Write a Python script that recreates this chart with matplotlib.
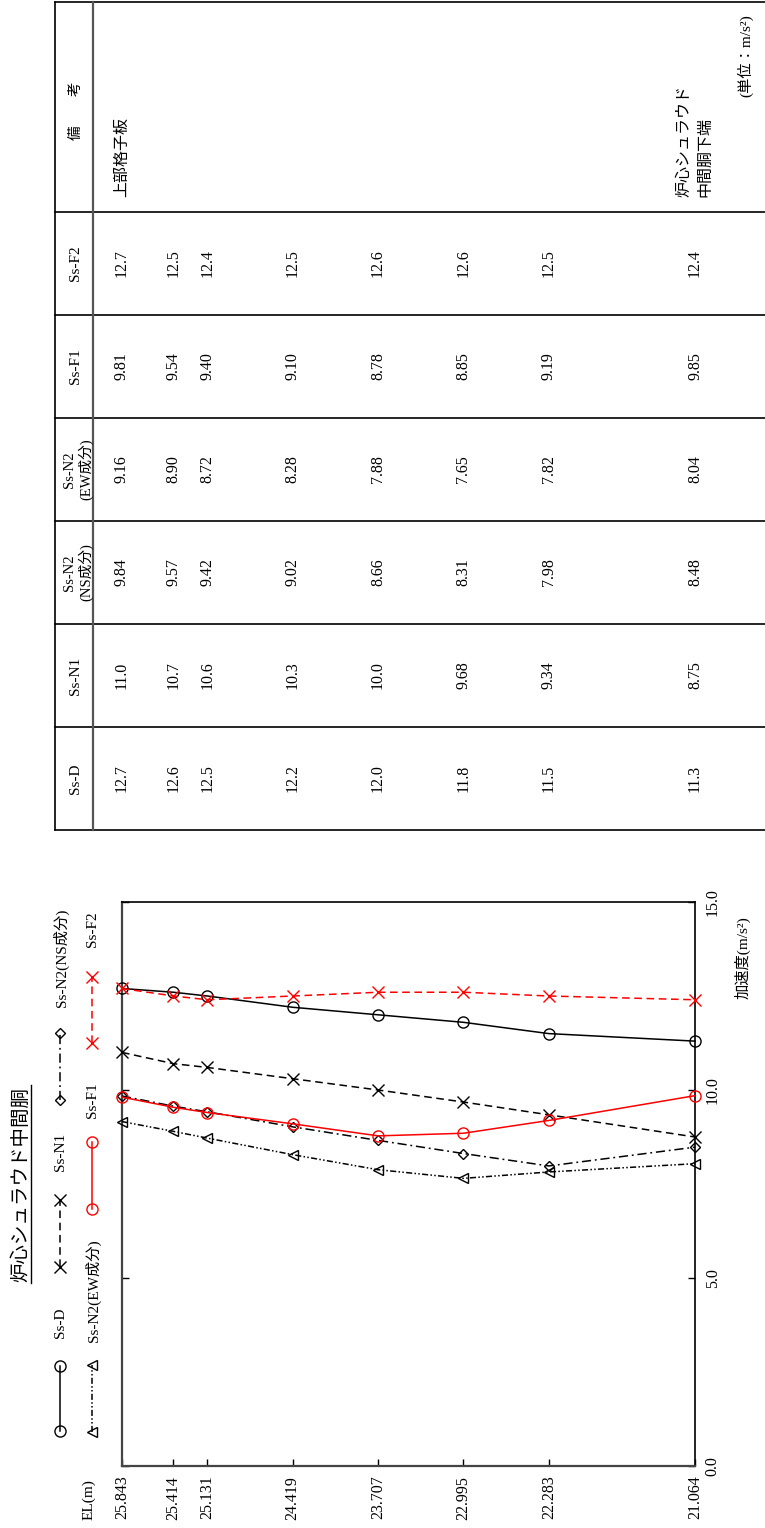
import matplotlib
matplotlib.use('Agg')
import matplotlib.pyplot as plt
from matplotlib.transforms import blended_transform_factory

plt.rcParams['font.family'] = ['Liberation Serif', 'Noto Sans CJK JP']

# ---------------- data ----------------
EL = [25.843, 25.414, 25.131, 24.419, 23.707, 22.995, 22.283, 21.064]
el_labels = ['25.843', '25.414', '25.131', '24.419', '23.707', '22.995', '22.283', '21.064']

ss_d = [12.7, 12.6, 12.5, 12.2, 12.0, 11.8, 11.5, 11.3]
ss_n1 = [11.0, 10.7, 10.6, 10.3, 10.0, 9.68, 9.34, 8.75]
ss_n2_ns = [9.84, 9.57, 9.42, 9.02, 8.66, 8.31, 7.98, 8.48]
ss_n2_ew = [9.16, 8.90, 8.72, 8.28, 7.88, 7.65, 7.82, 8.04]
ss_f1 = [9.81, 9.54, 9.40, 9.10, 8.78, 8.85, 9.19, 9.85]
ss_f2 = [12.7, 12.5, 12.4, 12.5, 12.6, 12.6, 12.5, 12.4]

series_names = ['Ss-D', 'Ss-N1', 'Ss-N2(NS成分)', 'Ss-N2(EW成分)', 'Ss-F1', 'Ss-F2']
table_headers = ['Ss-D', 'Ss-N1', 'Ss-N2\n(NS成分)', 'Ss-N2\n(EW成分)', 'Ss-F1', 'Ss-F2']
remarks_header = '備　　考'
remarks = {0: '上部格子板', 7: '炉心シュラウド\n中間胴下端'}
title = '炉心シュラウド中間胴'
unit_label = '(単位：m/s²)'
accel_label = '加速度(m/s²)'
el_axis_label = 'EL(m)'
accel_ticks = [0.0, 5.0, 10.0, 15.0]
accel_tick_labels = ['0.0', '5.0', '10.0', '15.0']

series_values = [ss_d, ss_n1, ss_n2_ns, ss_n2_ew, ss_f1, ss_f2]

# ---------------- styles ----------------
styles = [
    dict(color='black', ls='-', marker='o', ms=8),
    dict(color='black', ls=(0, (5, 3)), marker='x', ms=8),
    dict(color='black', ls=(0, (6, 2.5, 1.2, 2.5)), marker='D', ms=5.5),
    dict(color='black', ls=(0, (4, 1.5, 1, 1.5, 1, 1.5)), marker='<', ms=7),
    dict(color='red', ls='-', marker='o', ms=8),
    dict(color='red', ls=(0, (5, 3)), marker='x', ms=8),
]

W, H = 765, 1528
fig = plt.figure(figsize=(W / 100, H / 100), dpi=100)

# page axes in pixel coordinates for table / legend / labels
page = fig.add_axes([0, 0, 1, 1])
page.set_xlim(0, W)
page.set_ylim(H, 0)
page.axis('off')

# chart axes (rotated page: EL horizontal, acceleration vertical)
x0, x1, ytop, ybot = 122, 695, 902, 1466
ax = fig.add_axes([x0 / W, 1 - ybot / H, (x1 - x0) / W, (ybot - ytop) / H])
ax.set_xlim(EL[0], EL[-1])
ax.set_ylim(0, 15)
ax.set_facecolor('none')

for vals, st in zip(series_values, styles):
    ax.plot(EL, vals, color=st['color'], ls=st['ls'], lw=1.1,
            marker=st['marker'], ms=st['ms'], mfc='none', mec=st['color'],
            mew=1.0, clip_on=False, zorder=3)

ax.set_xticks(EL, labels=el_labels)
ax.tick_params(axis='x', direction='in', length=5, width=1.0, pad=7,
               labelrotation=90, labelsize=11.5, bottom=True, top=False)
ax.set_yticks(accel_ticks, labels=accel_tick_labels)
ax.tick_params(axis='y', direction='in', length=5, width=1.0, pad=7,
               left=True, right=True, labelleft=False, labelright=True,
               labelsize=11.5)
for t in ax.yaxis.get_major_ticks():
    t.label2.set_rotation(90)
    t.label2.set_va('center')
    t.label2.set_ha('left')

for side in ['bottom', 'left']:
    ax.spines[side].set_color('#444444')
    ax.spines[side].set_linewidth(1.6)
for side in ['top', 'right']:
    ax.spines[side].set_color('black')
    ax.spines[side].set_linewidth(1.2)

# axis labels
page.text(742, 958, accel_label, rotation=90, ha='center', va='center', fontsize=11)
page.text(89, 1500, el_axis_label, rotation=90, ha='center', va='center', fontsize=11)

# title with underline
page.text(21, 1184, title, rotation=90, ha='center', va='center', fontsize=14)
page.plot([31, 31], [1085, 1283], color='black', lw=1.0)

# legend (manual, rotated)
legend_pos = [
    (60, 1431, 1366, 61, 1323),
    (60, 1267, 1200, 61, 1152),
    (60, 1100, 1033, 61, 958),
    (92, 1432, 1365, 93, 1291),
    (92, 1209, 1142, 93, 1100),
    (92, 1043, 977, 93, 929),
]
for name, st, (lx, ly1, ly2, tx, ty) in zip(series_names, styles, legend_pos):
    page.plot([lx, lx], [ly1, ly2], color=st['color'], ls=st['ls'], lw=1.1,
              marker=st['marker'], ms=st['ms'], mfc='none', mec=st['color'], mew=1.0)
    page.text(tx, ty, name, rotation=90, ha='center', va='center', fontsize=11)

# ---------------- table ----------------
tbl_left, tbl_head, tbl_right = 55, 93, 765
col_edges = [830, 727, 624, 521, 418, 315, 212]
tbl_top = 2
lc = 'black'
page.plot([tbl_left, tbl_right], [tbl_top, tbl_top], color=lc, lw=1.2)
for ce in col_edges:
    page.plot([tbl_left, tbl_right], [ce, ce], color=lc, lw=1.2)
page.plot([tbl_left, tbl_left], [tbl_top, col_edges[0]], color=lc, lw=1.2)
page.plot([tbl_head, tbl_head], [tbl_top, col_edges[0]], color='#555555', lw=1.6)

blend = blended_transform_factory(ax.transData, page.transData)


def fmt(v):
    return f'{v:.1f}' if v >= 10 else f'{v:.2f}'


for j, (hdr, vals) in enumerate(zip(table_headers, series_values)):
    yc = (col_edges[j] + col_edges[j + 1]) / 2
    hx = 78 if '\n' in hdr else 76
    page.text(hx, yc, hdr, rotation=90, ha='center', va='center',
              fontsize=10.5 if '\n' in hdr else 11,
              linespacing=1.2, multialignment='center')
    for e, v in zip(EL, vals):
        page.text(e, yc, fmt(v), rotation=90, ha='center', va='center',
                  fontsize=11.5, transform=blend)

# remarks column
yc_rem = (col_edges[-1] + tbl_top) / 2
page.text(76, yc_rem + 4, remarks_header, rotation=90, ha='center', va='center', fontsize=10.5)
for i, txt in remarks.items():
    page.text(EL[i], 197, txt, rotation=90, rotation_mode='anchor', ha='left',
              va='center', fontsize=11.5, linespacing=1.45, multialignment='left',
              transform=blend)

# unit
page.text(745, 14, unit_label, rotation=90, rotation_mode='anchor', ha='right',
          va='center', fontsize=11)

fig.savefig('out.png', dpi=100)
